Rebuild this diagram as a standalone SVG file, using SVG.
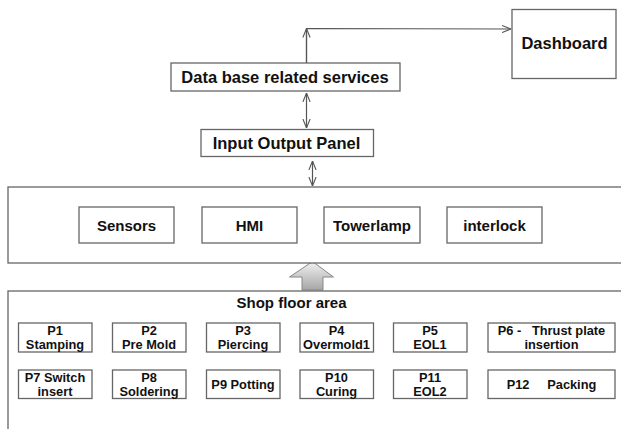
<svg xmlns="http://www.w3.org/2000/svg" width="621" height="429" viewBox="0 0 621 429">
<style>
.box{fill:#fff;stroke:#666;stroke-width:1.3}
.t{font-family:"Liberation Sans",Arial,sans-serif;font-weight:bold;fill:#111;text-anchor:middle}
.big{font-size:16.5px}
.mid{font-size:15px}
.sm{font-size:12.8px;white-space:pre}
.con{stroke:#555;stroke-width:1.2;fill:none}
</style>
<defs>
<marker id="ah" viewBox="0 0 10 10" refX="10" refY="5" markerWidth="9" markerHeight="9" orient="auto-start-reverse" markerUnits="userSpaceOnUse">
<path d="M0,1 L10,5 L0,9" fill="none" stroke="#555" stroke-width="1.2"/>
</marker>
<linearGradient id="ga" x1="0" y1="0" x2="0" y2="1">
<stop offset="0" stop-color="#f2f2f2"/>
<stop offset="1" stop-color="#a6a6a6"/>
</linearGradient>
</defs>

<g id="connectors">
<polyline class="con" points="306.5,63 306.5,28.5 511,29" marker-end="url(#ah)"/>
<line class="con" x1="306.5" y1="63" x2="306.5" y2="28.5" marker-end="url(#ah)"/>
<line class="con" x1="306.5" y1="93" x2="306.5" y2="128" marker-start="url(#ah)" marker-end="url(#ah)"/>
<line class="con" x1="312.5" y1="161" x2="312.5" y2="186" marker-start="url(#ah)" marker-end="url(#ah)"/>
<path id="block-arrow" d="M302,290 L302,277 L289.5,277 L312.5,261.5 L333.5,277 L323,277 L323,290 Z" fill="url(#ga)" stroke="#888" stroke-width="1"/>
</g>

<g id="dashboard">
<rect class="box" x="512" y="9.5" width="104" height="69"/>
<text class="t big" x="564.5" y="49">Dashboard</text>
</g>
<g id="db">
<rect class="box" x="171" y="63" width="229" height="28"/>
<text class="t big" x="285" y="82.5">Data base related services</text>
</g>
<g id="iop">
<rect class="box" x="201" y="129.5" width="172.5" height="27"/>
<text class="t big" x="286.5" y="148.5">Input Output Panel</text>
</g>

<g id="field-layer">
<rect class="box" x="8" y="187" width="620" height="76"/>
</g>
<g id="sensors">
<rect class="box" x="79" y="207" width="95" height="36"/>
<text class="t mid" x="126.5" y="230.5">Sensors</text>
</g>
<g id="hmi">
<rect class="box" x="202" y="207" width="95" height="36"/>
<text class="t mid" x="249.5" y="230.5">HMI</text>
</g>
<g id="towerlamp">
<rect class="box" x="324" y="207" width="96" height="36"/>
<text class="t mid" x="372" y="230.5">Towerlamp</text>
</g>
<g id="interlock">
<rect class="box" x="447" y="207" width="95" height="36"/>
<text class="t mid" x="494.5" y="230.5">interlock</text>
</g>

<g id="shopfloor">
<rect class="box" x="8" y="291" width="620" height="150"/>
<text class="t mid" x="291.5" y="308">Shop floor area</text>
</g>

<g id="p1">
<rect class="box" x="18.5" y="323" width="73.5" height="29"/>
<text class="t sm" x="55" y="335">P1</text>
<text class="t sm" x="55" y="348.5">Stamping</text>
</g>
<g id="p2">
<rect class="box" x="112.5" y="323" width="73.5" height="29"/>
<text class="t sm" x="149" y="335">P2</text>
<text class="t sm" x="149" y="348.5">Pre Mold</text>
</g>
<g id="p3">
<rect class="box" x="206.5" y="323" width="73.5" height="29"/>
<text class="t sm" x="243" y="335">P3</text>
<text class="t sm" x="243" y="348.5">Piercing</text>
</g>
<g id="p4">
<rect class="box" x="300" y="323" width="73.5" height="29"/>
<text class="t sm" x="336.5" y="335">P4</text>
<text class="t sm" x="336.5" y="348.5">Overmold1</text>
</g>
<g id="p5">
<rect class="box" x="393.5" y="323" width="73.5" height="29"/>
<text class="t sm" x="430" y="335">P5</text>
<text class="t sm" x="430" y="348.5">EOL1</text>
</g>
<g id="p6">
<rect class="box" x="488" y="323" width="127" height="29"/>
<text class="t sm" x="551.5" y="335">P6 -   Thrust plate</text>
<text class="t sm" x="551.5" y="349">insertion</text>
</g>

<g id="p7">
<rect class="box" x="18.5" y="370" width="73.5" height="28.5"/>
<text class="t sm" x="55" y="382">P7 Switch</text>
<text class="t sm" x="55" y="395.5">insert</text>
</g>
<g id="p8">
<rect class="box" x="112.5" y="370" width="73.5" height="28.5"/>
<text class="t sm" x="149" y="382">P8</text>
<text class="t sm" x="149" y="395.5">Soldering</text>
</g>
<g id="p9">
<rect class="box" x="206.5" y="370" width="73.5" height="28.5"/>
<text class="t sm" x="243" y="388.5">P9 Potting</text>
</g>
<g id="p10">
<rect class="box" x="300" y="370" width="73.5" height="28.5"/>
<text class="t sm" x="336.5" y="382">P10</text>
<text class="t sm" x="336.5" y="395.5">Curing</text>
</g>
<g id="p11">
<rect class="box" x="393.5" y="370" width="73.5" height="28.5"/>
<text class="t sm" x="430" y="382">P11</text>
<text class="t sm" x="430" y="395.5">EOL2</text>
</g>
<g id="p12">
<rect class="box" x="488" y="370" width="127" height="28.5"/>
<text class="t sm" x="551.5" y="388.5">P12     Packing</text>
</g>
</svg>
